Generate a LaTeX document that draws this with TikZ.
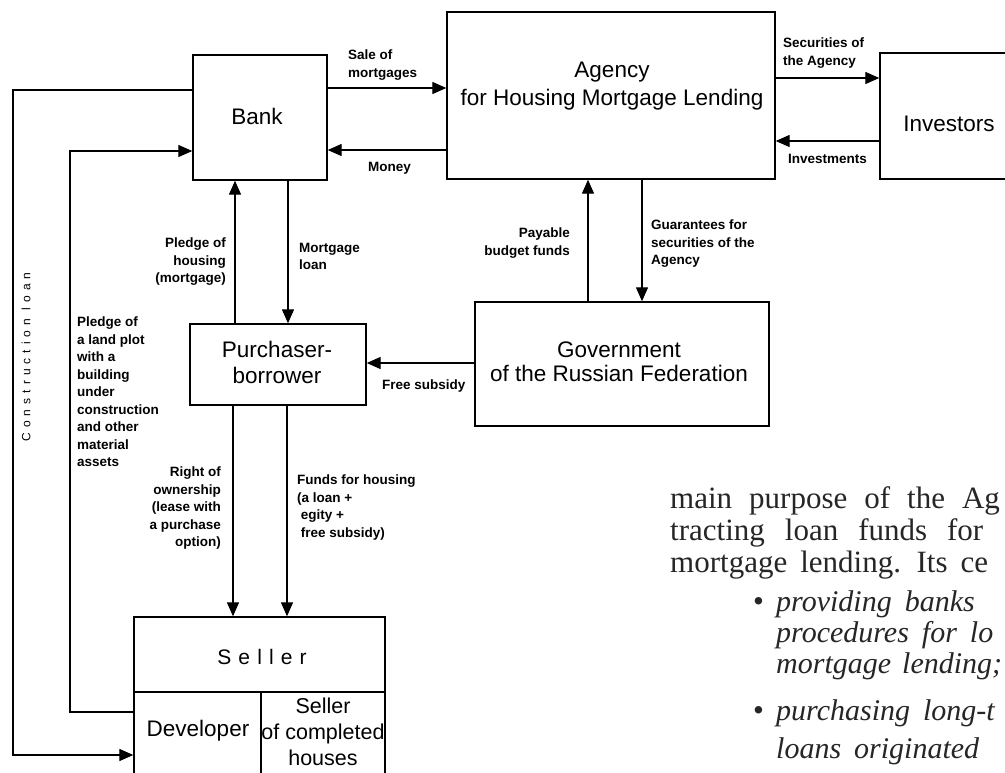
\documentclass[tikz,border=0pt]{standalone}
\usepackage{fontspec}
\setmainfont{Liberation Sans}
\newfontfamily\bleedfont{Liberation Serif}
\newfontfamily\spacedA[LetterSpace=42]{Liberation Sans}
\newfontfamily\spacedB[LetterSpace=34]{Liberation Sans}
\usetikzlibrary{arrows.meta}
\tikzset{
  box/.style 2 args={draw, line width=1.4pt, inner sep=0pt, minimum width=#1, minimum height=#2},
  btxt/.style={inner sep=0pt, align=center, font=\fontsize{22.5}{26}\selectfont},
  lab/.style={inner sep=0pt, font=\fontsize{13.5}{17.5}\selectfont\bfseries},
  conn/.style={line width=1.3pt},
  arr/.style={conn, -{Triangle[length=14pt,width=12pt]}},
  bleed/.style={inner sep=0pt, anchor=base west, text=black!85, font=\bleedfont\fontsize{31}{34}\selectfont},
  bleedit/.style={bleed, font=\bleedfont\itshape\fontsize{30}{34}\selectfont},
}
\begin{document}
\begin{tikzpicture}[x=1pt,y=-1pt]
\useasboundingbox (0,0) rectangle (1005,773);
\fill[white] (0,0) rectangle (1005,773);
\begin{scope}
\clip (0,0) rectangle (1005,773);
% boxes
\node[box={134pt}{125pt}] (bank) at (260,117.5) {};
\node[box={328pt}{167pt}] (agency) at (611,95.5) {};
\node[box={150pt}{126pt}] (investors) at (955,116) {};
\node[box={294pt}{124pt}] (gov) at (622,364) {};
\node[box={176pt}{81pt}] (purch) at (278,364.5) {};
\node[box={251pt}{75pt}] (seller) at (259.5,654.5) {};
\node[box={127pt}{108pt}] (dev) at (197.5,746) {};
\node[box={124pt}{108pt}] (compl) at (323,746) {};
% box texts
\node[btxt] (bankT) at (257,116) {Bank};
\node[btxt, anchor=north, font=\fontsize{22.5}{28}\selectfont] (agencyT) at (612,62) {Agency\\for Housing Mortgage Lending};
\node[btxt] (investorsT) at (949,124) {Investors};
\node[btxt, anchor=north, font=\fontsize{22.5}{24}\selectfont] (govT) at (619,342) {Government\\of the Russian Federation};
\node[btxt, anchor=north] (purchT) at (277,341) {Purchaser-\\borrower};
\node[inner sep=0pt, font=\spacedB\fontsize{21}{24}\selectfont] (sellerT) at (262,657) {Seller};
\node[btxt] (devT) at (198,731) {Developer};
\node[btxt, anchor=north, font=\fontsize{21.5}{26}\selectfont] (complT) at (323,698) {Seller\\of completed\\houses};
% connectors
\draw[arr] (bank.east |- 0,88) -- (agency.west |- 0,88);
\draw[arr] (agency.west |- 0,150) -- (bank.east |- 0,150);
\draw[arr] (agency.east |- 0,78) -- (investors.west |- 0,78);
\draw[arr] (investors.west |- 0,141) -- (agency.east |- 0,141);
\draw[arr] (gov.north -| 588,0) -- (agency.south -| 588,0);
\draw[arr] (agency.south -| 642,0) -- (gov.north -| 642,0);
\draw[arr] (purch.north -| 235,0) -- (bank.south -| 235,0);
\draw[arr] (bank.south -| 288,0) -- (purch.north -| 288,0);
\draw[arr] (gov.west |- 0,363) -- (purch.east |- 0,363);
\draw[arr] (purch.south -| 233,0) -- (seller.north -| 233,0);
\draw[arr] (purch.south -| 287,0) -- (seller.north -| 287,0);
\coordinate (outerTop) at (13,90);
\coordinate (outerBot) at (13,755);
\coordinate (innerTop) at (70,151);
\coordinate (innerBot) at (70,712);
\draw[arr] (bank.west |- outerTop) -- (outerTop) -- (outerBot) -- (dev.west |- outerBot);
\draw[arr] (dev.west |- innerBot) -- (innerBot) -- (innerTop) -- (bank.west |- innerTop);
% labels
\node[lab, anchor=north west, align=left] (lSale) at (348,50) {Sale of\\mortgages};
\node[lab, anchor=west] (lMoney) at (368,168) {Money};
\node[lab, anchor=north west, align=left] (lSec) at (783,38) {Securities of\\the Agency};
\node[lab, anchor=west] (lInv) at (788,159) {Investments};
\node[lab, anchor=north east, align=right] (lPay) at (570,228) {Payable\\budget funds};
\node[lab, anchor=north west, align=left] (lGuar) at (651,220) {Guarantees for\\securities of the\\Agency};
\node[lab, anchor=north east, align=right] (lPledgeH) at (226,238) {Pledge of\\housing\\(mortgage)};
\node[lab, anchor=north west, align=left] (lMort) at (299,243) {Mortgage\\loan};
\node[lab, anchor=north west, align=left] (lPledgeL) at (77,317) {Pledge of\\a land plot\\with a\\building\\under\\construction\\and other\\material\\assets};
\node[lab, anchor=west] (lFree) at (382,386) {Free subsidy};
\node[lab, anchor=north east, align=right] (lRight) at (221,467) {Right of\\ownership\\(lease with\\a purchase\\option)};
\node[lab, anchor=north west, align=left] (lFunds) at (297,475) {Funds for housing\\(a loan +\\\ egity +\\\ free subsidy)};
\node[inner sep=0pt, rotate=90, font=\spacedA\fontsize{12}{14}\selectfont] (lConstr) at (26,357) {Construction loan};
% text of the page behind the figure
\node[bleed] (t1) at (670,508) {\spaceskip=17pt\relax main purpose of the Ag};
\node[bleed] (t2) at (670,540) {\spaceskip=20pt\relax tracting loan funds for};
\node[bleed] (t3) at (670,572) {\spaceskip=13pt\relax mortgage lending. Its ce};
\node[bleed] (b1) at (753,611) {•};
\node[bleedit] (t4) at (776,611) {\spaceskip=13pt\relax providing banks};
\node[bleedit] (t5) at (776,642) {\spaceskip=13pt\relax procedures for lo};
\node[bleedit] (t6) at (776,673) {\spaceskip=11pt\relax mortgage lending;};
\node[bleed] (b2) at (753,720) {•};
\node[bleedit] (t7) at (776,720) {\spaceskip=13pt\relax purchasing long-t};
\node[bleedit] (t8) at (776,758) {\spaceskip=13pt\relax loans originated};
\end{scope}
\end{tikzpicture}
\end{document}
